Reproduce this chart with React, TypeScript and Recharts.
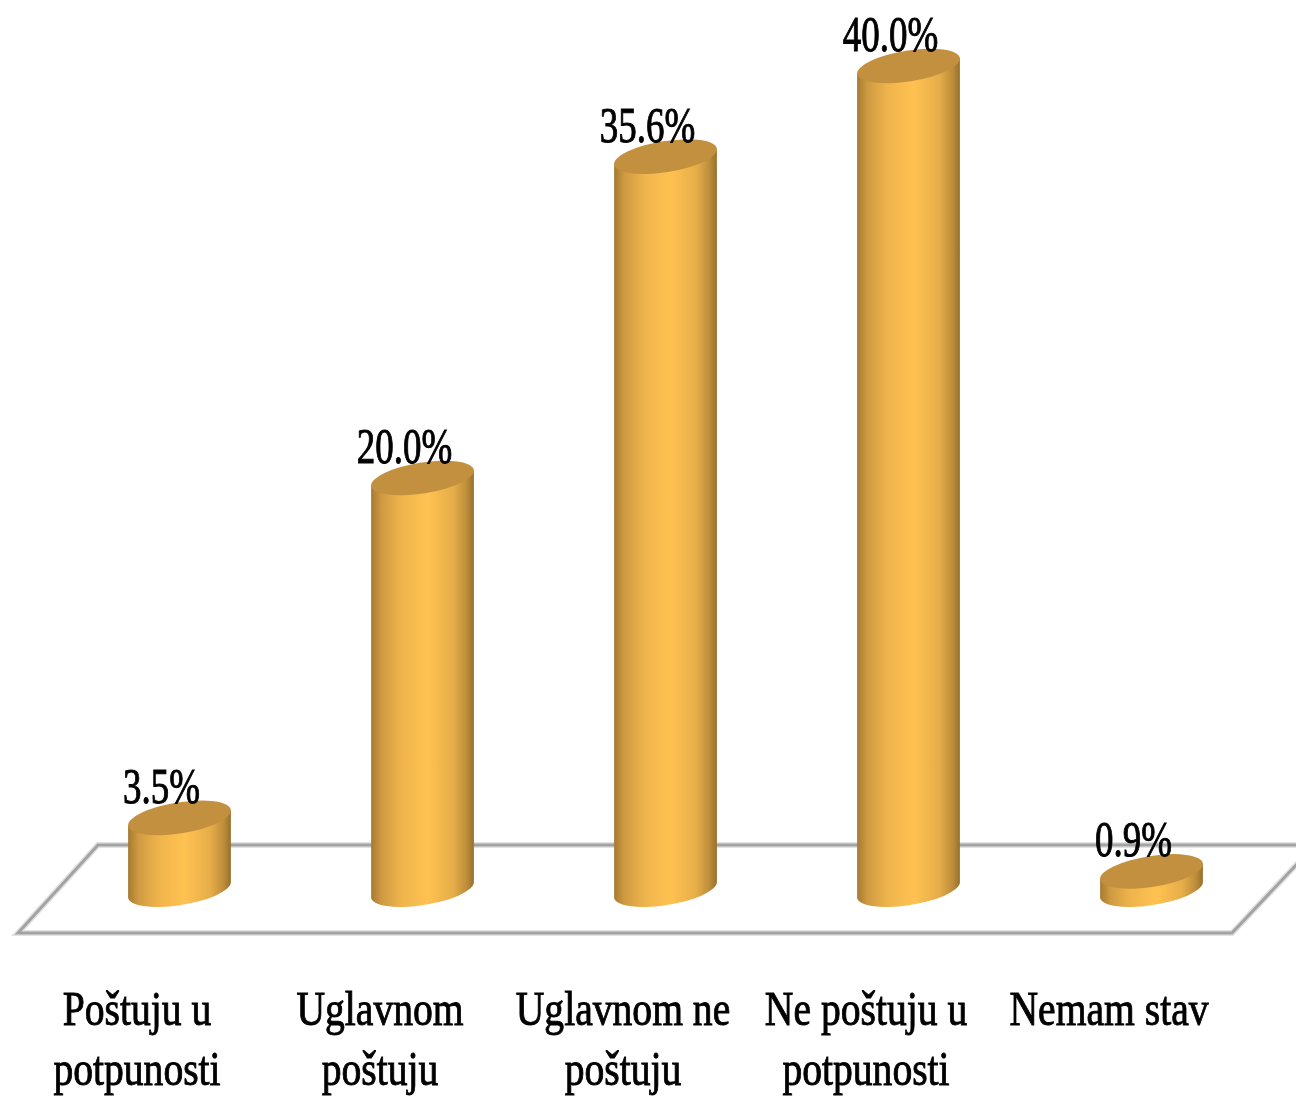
import React from "react";
import { BarChart, Bar, XAxis, YAxis, LabelList, Customized } from "recharts";

const categories = ["Poštuju u potpunosti", "Uglavnom poštuju", "Uglavnom ne poštuju", "Ne poštuju u potpunosti", "Nemam stav"];
const categoryLines = [
  ["Poštuju u", "potpunosti"],
  ["Uglavnom", "poštuju"],
  ["Uglavnom ne", "poštuju"],
  ["Ne poštuju u", "potpunosti"],
  ["Nemam stav"],
];
const values = [3.5, 20.0, 35.6, 40.0, 0.9];
const data = categories.map((name, i) => ({ name, value: values[i] }));

const FONT = "'Liberation Serif', 'Times New Roman', serif";
const RX = 52;
const RY = 15.5;
const TILT = -9;
const EDGE_X = 51.4;
const EDGE_Y = 7.4;

function Cylinder(props: any) {
  const { x, y, width, height } = props;
  const cx = x + width / 2;
  const base = y + height;
  const body =
    `M ${cx - EDGE_X} ${y + EDGE_Y} L ${cx - EDGE_X} ${base + EDGE_Y} ` +
    `A ${RX} ${RY} ${TILT} 0 0 ${cx + EDGE_X} ${base - EDGE_Y} ` +
    `L ${cx + EDGE_X} ${y - EDGE_Y} Z`;
  return (
    <g>
      <path d={body} fill="url(#cyl)" />
      <ellipse cx={cx} cy={y} rx={RX} ry={RY} fill="#c2903e" transform={`rotate(${TILT} ${cx} ${y})`} />
    </g>
  );
}

function ValueLabel(props: any) {
  const { x, y, width, value } = props;
  const cx = x + width / 2 - 18;
  return (
    <text
      transform={`translate(${cx} ${y - 15}) scale(0.74 1)`}
      textAnchor="middle"
      fontFamily={FONT}
      fontSize={50}
      fill="#000"
      stroke="#000"
      strokeWidth={1}
    >
      {`${value.toFixed(1)}%`}
    </text>
  );
}

function CategoryTick(props: any) {
  const { x, y, index } = props;
  const lines = categoryLines[index];
  return (
    <g>
      {lines.map((line: string, i: number) => (
        <text
          key={line}
          transform={`translate(${x - 42} ${y + 127 + i * 60}) scale(0.825 1)`}
          textAnchor="middle"
          fontFamily={FONT}
          fontSize={48}
          fill="#000"
          stroke="#000"
          strokeWidth={0.9}
        >
          {line}
        </text>
      ))}
    </g>
  );
}

function Floor() {
  const pts = "18,933 1232,933 1315,845 98,845";
  return (
    <g>
      <polygon points={pts} fill="none" stroke="#e2e2e2" strokeWidth={6} />
      <polygon points={pts} fill="none" stroke="#a3a3a3" strokeWidth={3} />
    </g>
  );
}

export default function App() {
  return (
    <div style={{ position: "absolute", left: 0, top: 0, width: 1296, height: 1099, background: "#fff", filter: "blur(0.6px)" }}>
      <BarChart
        width={1296}
        height={1099}
        data={data}
        margin={{ top: 66, right: 23.5, bottom: 0, left: 57.5 }}
      >
        <defs>
          <linearGradient id="cyl" x1="0" y1="0" x2="1" y2="0">
            <stop offset="0" stopColor="#a67a32" />
            <stop offset="0.1" stopColor="#cf9a41" />
            <stop offset="0.3" stopColor="#efb44c" />
            <stop offset="0.55" stopColor="#ffc251" />
            <stop offset="0.8" stopColor="#e6ad49" />
            <stop offset="0.93" stopColor="#bd8d3b" />
            <stop offset="1" stopColor="#96702e" />
          </linearGradient>
        </defs>
        <Customized component={Floor} />
        <XAxis
          dataKey="name"
          interval={0}
          axisLine={false}
          tickLine={false}
          height={209}
          tick={CategoryTick}
        />
        <YAxis hide domain={[0, 40]} />
        <Bar dataKey="value" barSize={102} shape={Cylinder} isAnimationActive={false}>
          <LabelList dataKey="value" content={ValueLabel} />
        </Bar>
      </BarChart>
    </div>
  );
}
